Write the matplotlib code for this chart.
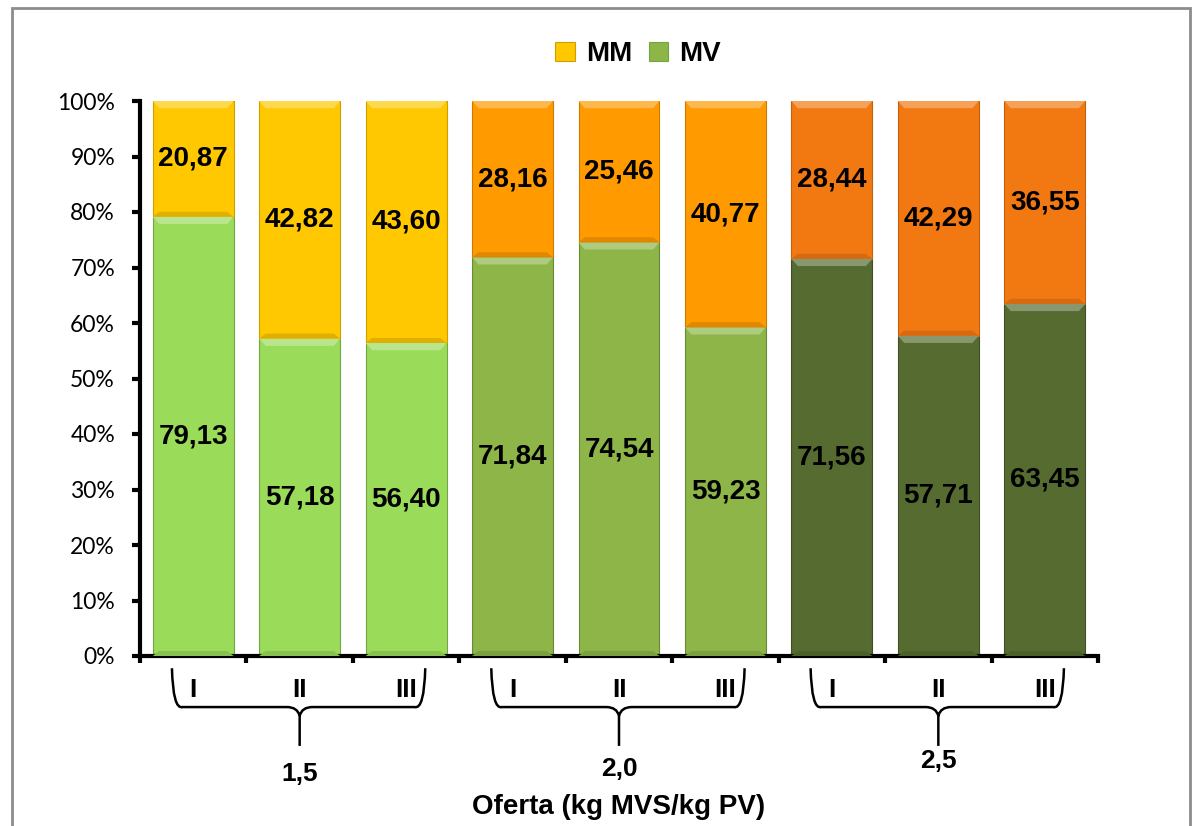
"""Stacked 100% bars of MM / MV per oferta and period."""

import matplotlib
matplotlib.use("Agg")
import matplotlib.pyplot as plt
from matplotlib.patches import Polygon, Rectangle
from matplotlib.path import Path
from matplotlib.patches import PathPatch
import numpy as np

ofertas = ["1,5", "2,0", "2,5"]
periodos = ["I", "II", "III"]
mv = [79.13, 57.18, 56.40, 71.84, 74.54, 59.23, 71.56, 57.71, 63.45]
mm = [20.87, 42.82, 43.60, 28.16, 25.46, 40.77, 28.44, 42.29, 36.55]

mv_colors = ["#9BDB5A", "#8DB548", "#566B30"]
mm_colors = ["#FFC800", "#FF9A00", "#F27812"]

BOLD = dict(family="Liberation Sans", weight="bold")


def lighten(c, f):
    r, g, b = matplotlib.colors.to_rgb(c)
    return (r + (1 - r) * f, g + (1 - g) * f, b + (1 - b) * f)


def darken(c, f):
    r, g, b = matplotlib.colors.to_rgb(c)
    return (r * (1 - f), g * (1 - f), b * (1 - f))


def bevel(ax, x, bottom, height, width, color):
    """Light strip on top of a bar segment, darker one at its foot."""
    band = 1.3
    inset = 0.06
    top = bottom + height
    ax.add_patch(Polygon([(x - width / 2, top), (x + width / 2, top),
                          (x + width / 2 - inset, top - band),
                          (x - width / 2 + inset, top - band)],
                         closed=True, facecolor=lighten(color, 0.3),
                         edgecolor="none", zorder=3))
    ax.add_patch(Polygon([(x - width / 2, bottom), (x + width / 2, bottom),
                          (x + width / 2 - inset, bottom + band * 0.7),
                          (x - width / 2 + inset, bottom + band * 0.7)],
                         closed=True, facecolor=darken(color, 0.12),
                         edgecolor="none", zorder=3))


fig = plt.figure(figsize=(12.04, 8.26), dpi=100)
ax = fig.add_axes([140 / 1204, 170 / 826, 958 / 1204, 555 / 826])

x = np.arange(len(mv))
width = 0.76
grp = x // 3
c_mv = [mv_colors[g] for g in grp]
c_mm = [mm_colors[g] for g in grp]

ax.bar(x, mv, width, color=c_mv, edgecolor=[darken(c, 0.25) for c in c_mv],
       linewidth=0.8, zorder=2, label="MV")
ax.bar(x, mm, width, bottom=mv, color=c_mm,
       edgecolor=[darken(c, 0.2) for c in c_mm], linewidth=0.8, zorder=2,
       label="MM")
for i in range(len(mv)):
    bevel(ax, x[i], 0, mv[i], width, c_mv[i])
    bevel(ax, x[i], mv[i], mm[i], width, c_mm[i])
    ax.text(x[i], mv[i] / 2, f"{mv[i]:.2f}".replace(".", ","),
            ha="center", va="center", fontsize=20, zorder=4, **BOLD)
    ax.text(x[i], mv[i] + mm[i] / 2, f"{mm[i]:.2f}".replace(".", ","),
            ha="center", va="center", fontsize=20, zorder=4, **BOLD)

ax.set_xlim(-0.5, len(mv) - 0.5)
ax.set_ylim(0, 100)
ax.set_yticks(np.arange(0, 101, 10))
ax.set_yticklabels([f"{v}%" for v in range(0, 101, 10)], family="Lato",
                   fontsize=16.5)
ax.set_xticks(np.arange(-0.5, len(mv), 1))
ax.set_xticklabels([])
ax.tick_params(axis="y", length=6, width=3, direction="out", pad=12)
ax.tick_params(axis="x", length=5, width=3, direction="out")
for s in ["top", "right"]:
    ax.spines[s].set_visible(False)
for s in ["left", "bottom"]:
    ax.spines[s].set_linewidth(3)

# period labels and braces below the axis
trans = ax.get_xaxis_transform()
for i in range(len(mv)):
    ax.text(x[i], -0.062, periodos[i % 3], ha="center", va="center",
            fontsize=19, transform=trans, **BOLD)

label_y = [-0.212, -0.203, -0.19]
for g, lab in enumerate(ofertas):
    x0, x1 = 3 * g - 0.2, 3 * g + 2.18
    xm = 3 * g + 1
    yt, yb, ym, yp = -0.022, -0.092, -0.108, -0.162
    verts = [(x0, yt), (x0 + 0.01, yb - 0.005), (x0 + 0.1, yb),
             (xm - 0.12, yb), (xm - 0.02, yb), (xm, ym),
             (xm, yp), (xm, ym), (xm + 0.02, yb), (xm + 0.12, yb),
             (x1 - 0.1, yb), (x1 - 0.01, yb - 0.005), (x1, yt)]
    codes = [Path.MOVETO, Path.CURVE3, Path.CURVE3,
             Path.LINETO, Path.CURVE3, Path.CURVE3,
             Path.LINETO, Path.MOVETO, Path.CURVE3, Path.CURVE3,
             Path.LINETO, Path.CURVE3, Path.CURVE3]
    ax.add_patch(PathPatch(Path(verts, codes), transform=trans,
                           facecolor="none", edgecolor="black", lw=1.8,
                           clip_on=False))
    ax.text(xm, label_y[g], lab, ha="center", va="center", fontsize=19,
            transform=trans, **BOLD)

ax.text(0.5, -0.272, "Oferta (kg MVS/kg PV)", ha="center", va="center",
        fontsize=20, transform=ax.transAxes, **BOLD)

handles, labels = ax.get_legend_handles_labels()
leg = ax.legend(handles[::-1], labels[::-1], loc="center",
                bbox_to_anchor=(0.52, 1.084), ncol=2, frameon=False,
                prop=dict(family="Liberation Sans", weight="bold", size=20),
                handlelength=0.7, handleheight=0.7, handletextpad=0.4,
                columnspacing=0.6)
leg.legend_handles[0].set_facecolor(mm_colors[0])
leg.legend_handles[1].set_facecolor(mv_colors[1])

fig.patches.append(Rectangle((12 / 1204, -0.01), 1178 / 1204, 1.0,
                             transform=fig.transFigure, fill=False,
                             edgecolor="#8C8C8C", lw=2))

fig.savefig("out.png", dpi=100)
